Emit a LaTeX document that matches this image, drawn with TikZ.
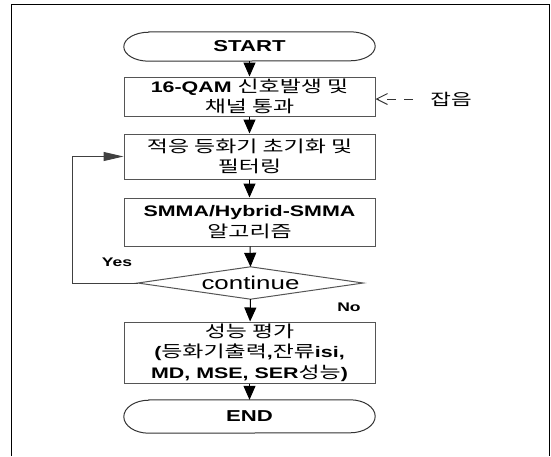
\documentclass[tikz,border=0pt]{standalone}
\usepackage{fontspec}
\setmainfont{Liberation Sans}[FakeStretch=1.4]
\newfontfamily\kr{Noto Sans CJK KR}[FakeStretch=1.4, Scale=1.07]
\usetikzlibrary{arrows.meta}
\definecolor{boxgray}{HTML}{555555}
\tikzset{
  boxnode/.style={draw=boxgray, line width=1pt, minimum width=251pt, inner sep=0pt,
    align=center, font=\fontsize{15.3}{20.5}\selectfont},
  termnode/.style={minimum width=251pt, inner sep=0pt, font=\fontsize{15.8}{18}\selectfont\bfseries},
  termline/.style={draw=black!80, line width=1pt},
  boxline/.style={draw=boxgray, line width=1pt},
  flow/.style={draw=black, line width=1pt, -{Triangle[length=14pt,width=12pt]}},
  loopflow/.style={draw=black!75, line width=1pt, -{Triangle[length=20pt,width=9pt]}},
  noisearrow/.style={draw=black!80, line width=0.9pt, dash pattern=on 9pt off 8pt,
    -{Straight Barb[length=11pt,width=11pt]}},
  lbl/.style={inner sep=0pt, font=\fontsize{12.5}{14}\selectfont\bfseries},
  frameline/.style={draw=black, line width=1.5pt},
}
\begin{document}
\begin{tikzpicture}[x=1pt,y=-1pt]
\useasboundingbox (0,0) rectangle (551,456);
% outer frame (open at the bottom of the picture)
\draw[frameline] (11.5,456) -- (11.5,4.5) -- (549.5,4.5) -- (549.5,456);

% START
\node[termnode, minimum height=29pt] (start) at (249.5,46.5) {START};
\draw[termline] ([xshift=25pt]start.north west) -- ([xshift=-25pt]start.north east)
  arc[start angle=90, end angle=-90, x radius=25pt, y radius=14.5pt]
  -- ([xshift=25pt]start.south west)
  arc[start angle=270, end angle=90, x radius=25pt, y radius=14.5pt] -- cycle;

% boxes
\node[boxnode, minimum height=39pt] (b1) at (249.5,96.5)
  {\textbf{16-QAM} {\kr 신호발생 및}\\{\kr 채널 통과}};
\node[boxnode, minimum height=45pt] (b2) at (249.5,156.5)
  {{\kr 적응 등화기 초기화 및}\\{\kr 필터링}};
\node[boxnode, minimum height=48pt] (b3) at (249.5,222)
  {\textbf{SMMA/Hybrid-SMMA}\\{\kr 알고리즘}};

% decision
\node[minimum width=225pt, minimum height=32pt, inner sep=0pt,
  font=\fontsize{18.5}{20}\selectfont] (dec) at (250.5,283) {continue};
\draw[boxline] (dec.west) -- (dec.north) -- (dec.east) -- (dec.south) -- cycle;

\node[boxnode, minimum height=61pt] (b4) at (249.5,352.5)
  {{\kr 성능 평가}\\\textbf{(}{\kr 등화기출력}\textbf{,}{\kr 잔류}\textbf{isi,}\\\textbf{MD, MSE, SER}{\kr 성능}\textbf{)}};

% END
\node[termnode, minimum height=33pt] (end) at (249.5,416.5) {END};
\draw[termline] ([xshift=25pt]end.north west) -- ([xshift=-25pt]end.north east)
  arc[start angle=90, end angle=-90, x radius=25pt, y radius=16.5pt]
  -- ([xshift=25pt]end.south west)
  arc[start angle=270, end angle=90, x radius=25pt, y radius=16.5pt] -- cycle;

% noise input
\node[inner sep=0pt, font=\fontsize{15}{17}\selectfont\kr] (noise) at (451,99) {잡음};
\draw[noisearrow] ([xshift=-17pt]noise.west) -- (noise -| b1.east);

% flow arrows
\draw[flow] (start) -- (b1);
\draw[flow] (b1) -- (b2);
\draw[flow] (b2) -- (b3);
\draw[flow] (b3) -- (dec.north);
\draw[flow] (dec.south) -- (b4);
\draw[flow] (b4) -- (end);
\draw[loopflow] (dec.west) -- ++(-65,0) |- (b2.west);

% labels
\node[lbl] (yes) at (117,262) {Yes};
\node[lbl] (no) at (349,307) {No};
\end{tikzpicture}
\end{document}
